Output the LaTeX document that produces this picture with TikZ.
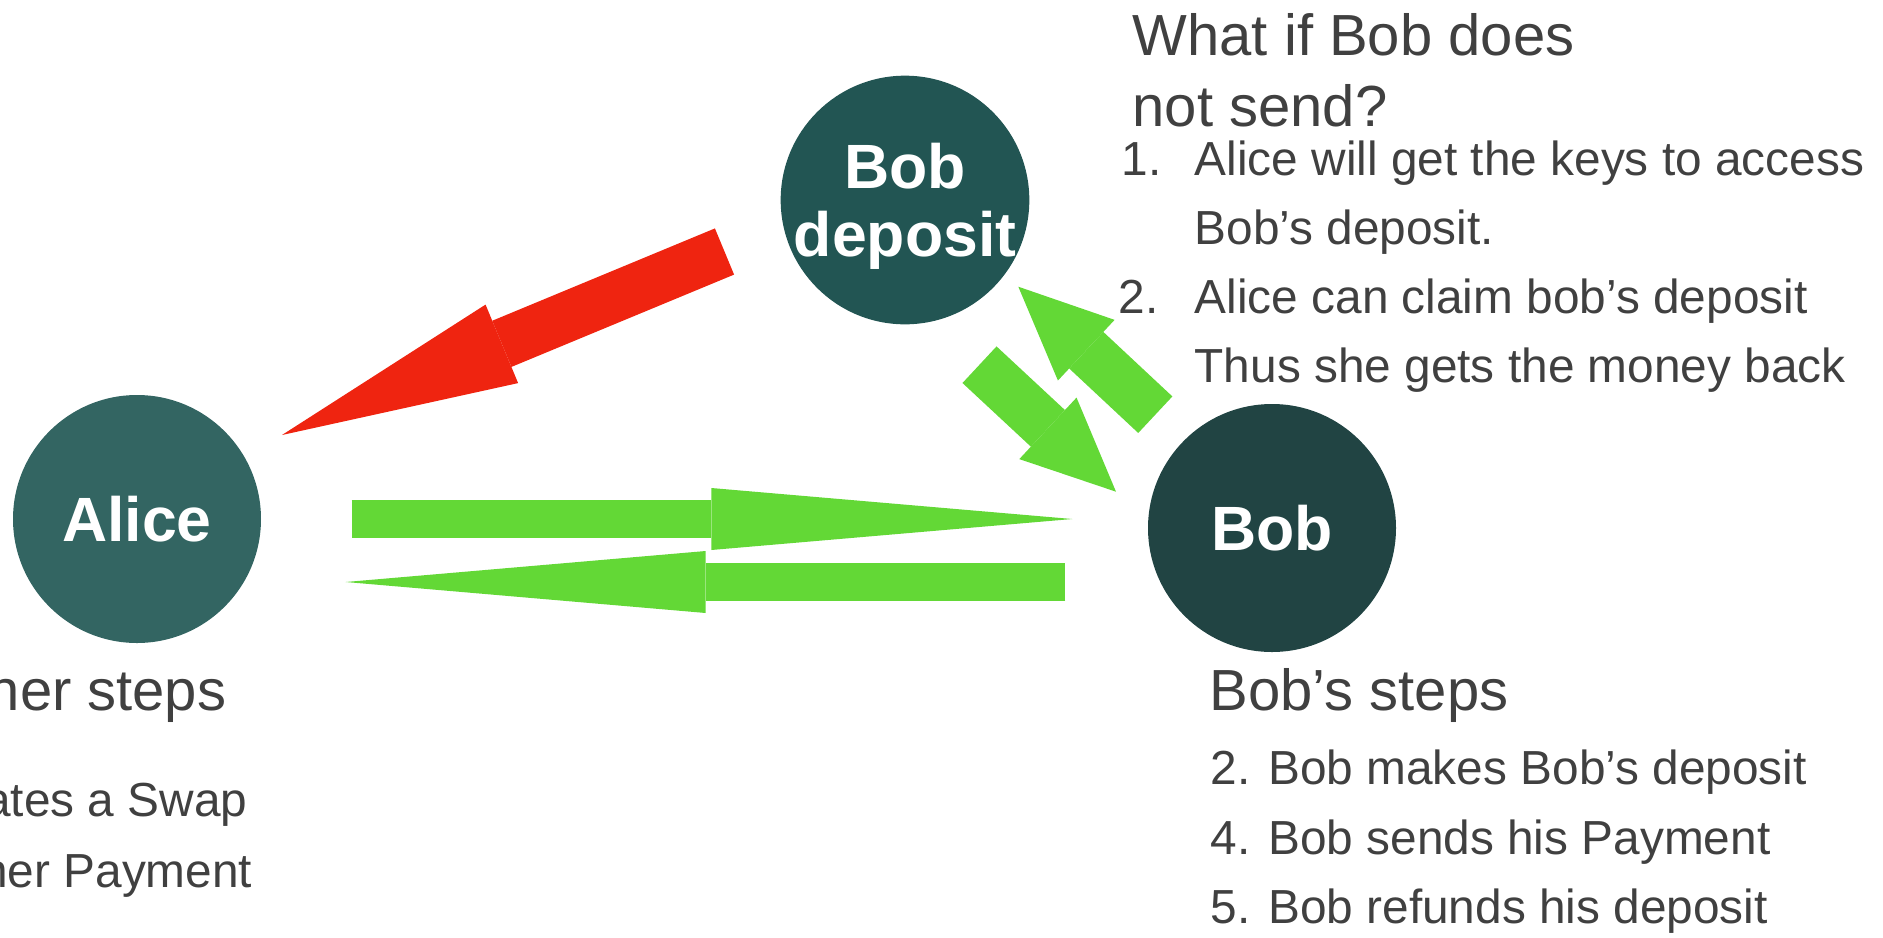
\documentclass[tikz,border=0pt]{standalone}
\usepackage{fontspec}
\setmainfont{Liberation Sans}
\usetikzlibrary{arrows.meta,positioning,calc}

\definecolor{alicegreen}{HTML}{336562}
\definecolor{depositgreen}{HTML}{225553}
\definecolor{bobgreen}{HTML}{214443}
\definecolor{claimred}{HTML}{EF2410}
\definecolor{paygreen}{HTML}{63D836}
\definecolor{textgray}{HTML}{404040}

\begin{document}
\begin{tikzpicture}[x=0.1mm,y=-0.1mm,
  party/.style={circle,fill=#1,minimum size=24.8mm,inner sep=0pt,text=white,align=center,
    font=\fontsize{17.8}{19.2}\selectfont\bfseries},
  bigtext/.style={anchor=base west,inner sep=0pt,text=textgray,font=\fontsize{16.5}{19.8}\selectfont},
  steptext/.style={anchor=base west,inner sep=0pt,text=textgray,font=\fontsize{13.6}{16}\selectfont},
  blockarrow/.style n args={4}{draw=#1,line width=#2,
    -{Triangle[width=#3,length=#4,line width=0pt]}}]
  \useasboundingbox (0,0) rectangle (1883,937);
  % Parties
  \node[party=alicegreen] (alice) at (137,519) {Alice};
  \node[party=depositgreen,text depth=0pt] (dep) at (905,200) {Bob\\deposit};
  \node[party=bobgreen] (bob) at (1272,528) {Bob};
  % Arrow ends
  \coordinate (redtail) at ($(dep)+(-180.5,51.5)$);
  \coordinate (redtip) at ($(alice)+(145,-84)$);
  \coordinate (downtail) at ($(dep)+(74.5,164.7)$);
  \coordinate (downtip) at ($(bob)+(-156,-36.3)$);
  \coordinate (uptail) at ($(bob)+(-116.7,-113.3)$);
  \coordinate (uptip) at ($(dep)+(113.3,86.7)$);
  % Deposit handed to Alice
  \draw[blockarrow={claimred}{5mm}{8.5mm}{23.8mm}] (redtail) -- (redtip);
  % Payments
  \draw[blockarrow={paygreen}{3.75mm}{6.2mm}{36.1mm}]
    ([xshift=9mm]alice.east) -- ([xshift=-7.5mm]alice.east -| bob.west);
  \draw[blockarrow={paygreen}{3.75mm}{6.2mm}{36mm}]
    ([xshift=-8.2mm,yshift=-6.3mm]bob.west |- alice) -- ([xshift=8.4mm,yshift=-6.3mm]alice.east);
  % Deposit in and out
  \draw[blockarrow={paygreen}{5mm}{8.4mm}{9.3mm}] (downtail) -- (downtip);
  \draw[blockarrow={paygreen}{5mm}{8.3mm}{9.3mm}] (uptail) -- (uptip);
  % What if
  \node[bigtext] (what) at (1132,55) {What if Bob does};
  \node[bigtext] (notsend) at (1132,126) {not send?};
  \node[steptext] (n1) at (1121,175) {1.};
  \node[steptext] (keys) at (1194,175) {Alice will get the keys to access};
  \node[steptext] (keys2) at (1194,244) {Bob’s deposit.};
  \node[steptext] (n2) at (1118,313) {2.};
  \node[steptext] (claim) at (1194,313) {Alice can claim bob’s deposit};
  \node[steptext] (claim2) at (1194,382) {Thus she gets the money back};
  % Bob's steps
  \node[bigtext] (bobsteps) at (1209,710) {Bob’s steps};
  \foreach \y/\s [count=\i] in {784/2. Bob makes Bob’s deposit,854/4. Bob sends his Payment,923/5. Bob refunds his deposit}
    \node[steptext] (bobstep\i) at (1210,\y) {\s};
  % Alice's steps (cut at the left edge)
  \node[bigtext,anchor=base east] (hersteps) at (227,710) {her steps};
  \node[steptext,anchor=base east] (swap) at (248,816) {ates a Swap};
  \node[steptext,anchor=base east] (herpay) at (253,887) {her Payment};
\end{tikzpicture}
\end{document}
